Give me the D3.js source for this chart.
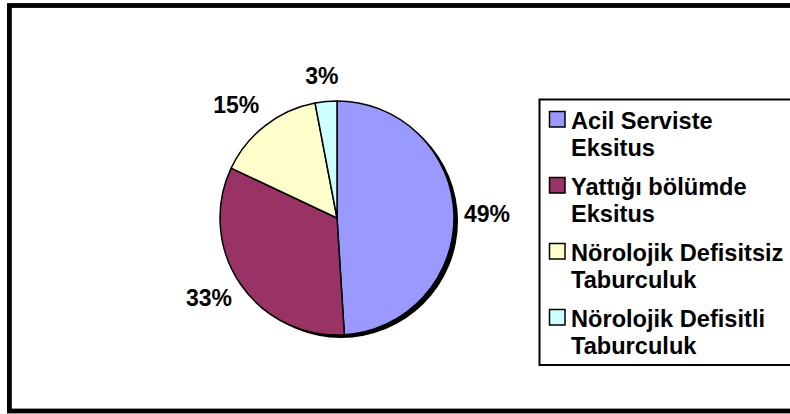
<!DOCTYPE html>
<html><head><meta charset="utf-8">
<script src="https://cdn.jsdelivr.net/npm/d3@7"></script>
<style>html,body{margin:0;padding:0;background:#fff;}svg{display:block;}</style>
</head><body>
<svg id="chart" width="790" height="414"></svg>
<script>
const categories = [
  ["Acil Serviste", "Eksitus"],
  ["Yattığı bölümde", "Eksitus"],
  ["Nörolojik Defisitsiz", "Taburculuk"],
  ["Nörolojik Defisitli", "Taburculuk"]
];
const values = [49, 33, 15, 3];
const labels = ["49%", "33%", "15%", "3%"];
const colors = ["#9999FF", "#993366", "#FFFFCC", "#CCFFFF"];

const svg = d3.select("#chart");
const font = "'Liberation Sans', Arial, sans-serif";

// outer frame
svg.append("rect").attr("x", 9.4).attr("y", 5.5).attr("width", 800).attr("height", 405.5)
  .attr("fill", "#fff").attr("stroke", "#000").attr("stroke-width", 4.8);

const cx = 337, cy = 218, r = 117;
const g = svg.append("g").attr("transform", `translate(${cx},${cy})`);

const pie = d3.pie().sort(null).value(d => d);
const arcs = pie(values);
const arc = d3.arc().innerRadius(0).outerRadius(r);

// shadow
g.append("circle").attr("cx", 4).attr("cy", 3).attr("r", r).attr("fill", "#000");

g.selectAll("path.slice").data(arcs).enter().append("path")
  .attr("class", "slice")
  .attr("d", arc)
  .attr("fill", (d, i) => colors[i])
  .attr("stroke", "#000").attr("stroke-width", 1.5).attr("stroke-linejoin", "round");

const gap = 10, halfH = 16;
g.selectAll("text.lbl").data(arcs).enter().append("text")
  .attr("class", "lbl")
  .attr("text-anchor", "middle")
  .attr("dominant-baseline", "central")
  .attr("font-family", font).attr("font-weight", "bold").attr("font-size", 23)
  .attr("fill", "#000")
  .text((d, i) => labels[i])
  .each(function(d) {
    const a = (d.startAngle + d.endAngle) / 2;
    const ux = Math.sin(a), uy = -Math.cos(a);
    const w = this.getComputedTextLength();
    const hx = Math.max(-1, Math.min(1, ux * 2));
    d3.select(this)
      .attr("x", (r + gap) * ux + w / 2 * hx)
      .attr("y", (r + gap) * uy + halfH * uy);
  });

// legend
const lx = 539.5, ly = 99.5;
svg.append("rect").attr("x", lx).attr("y", ly).attr("width", 300).attr("height", 265.5)
  .attr("fill", "#fff").attr("stroke", "#000").attr("stroke-width", 2);

const ys = d3.scaleLinear().domain([0, 1]).range([0, 66]);
const leg = svg.append("g");
categories.forEach((lines, i) => {
  const base = ly + 29 + ys(i);
  leg.append("rect").attr("x", 549.5).attr("y", base - 17).attr("width", 15.5).attr("height", 15.5)
    .attr("fill", colors[i]).attr("stroke", "#000").attr("stroke-width", 1.5);
  const t = leg.append("text").attr("font-family", font).attr("font-weight", "bold")
    .attr("font-size", 23.6).attr("fill", "#000");
  lines.forEach((ln, j) => {
    t.append("tspan").attr("x", 571).attr("y", base + j * 27.7).text(ln);
  });
});
</script>
</body></html>
